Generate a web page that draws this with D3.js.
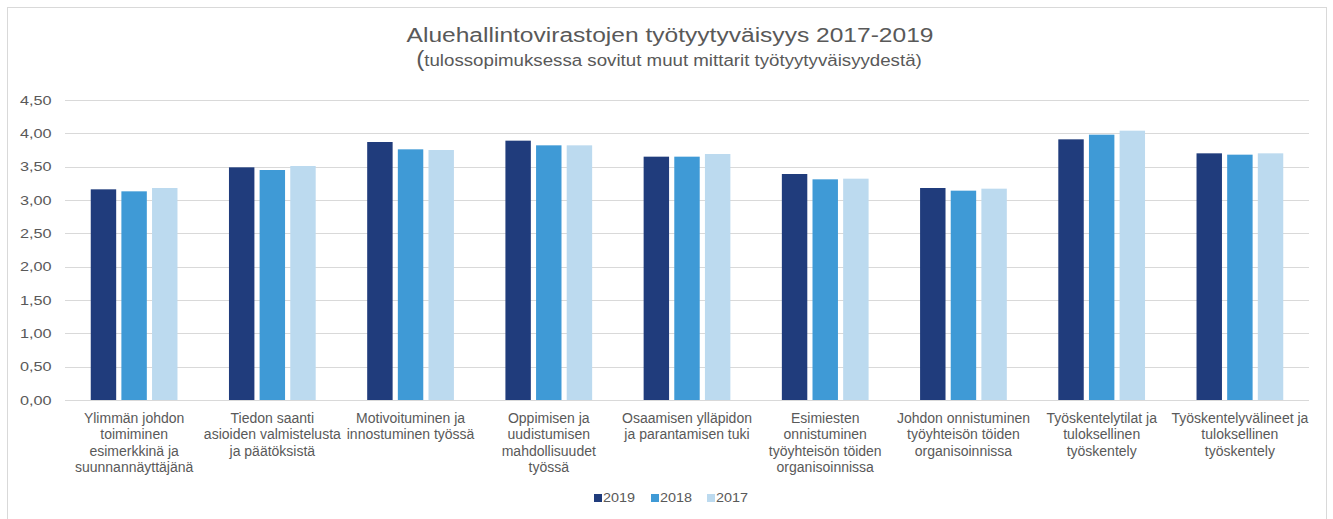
<!DOCTYPE html>
<html>

<head>
    <meta charset='utf-8'>
</head>
<style>
    body {
        margin: 0;
        background: #fff;
    }
    
    text {
        font-family: "Liberation Sans", Arial, sans-serif;
        fill: #595959;
    }
    
    .grid line {
        stroke: #d9d9d9;
        stroke-width: 1px;
    }
</style>

<body>
    <div id='chart'></div>
    <script src="https://d3js.org/d3.v7.min.js"></script>
    <script>
        var categories = [
            ["Ylimmän johdon", "toimiminen", "esimerkkinä ja", "suunnannäyttäjänä"],
            ["Tiedon saanti", "asioiden valmistelusta", "ja päätöksistä"],
            ["Motivoituminen ja", "innostuminen työssä"],
            ["Oppimisen ja", "uudistumisen", "mahdollisuudet", "työssä"],
            ["Osaamisen ylläpidon", "ja parantamisen tuki"],
            ["Esimiesten", "onnistuminen", "työyhteisön töiden", "organisoinnissa"],
            ["Johdon onnistuminen", "työyhteisön töiden", "organisoinnissa"],
            ["Työskentelytilat ja", "tuloksellinen", "työskentely"],
            ["Työskentelyvälineet ja", "tuloksellinen", "työskentely"]
        ];

        var seriesNames = ["2019", "2018", "2017"];
        var seriesColors = ["#203c7c", "#3f9ad6", "#bcdaef"];

        var values2019 = [3.16, 3.49, 3.87, 3.89, 3.65, 3.39, 3.18, 3.91, 3.70];
        var values2018 = [3.13, 3.45, 3.76, 3.82, 3.65, 3.31, 3.14, 3.98, 3.68];
        var values2017 = [3.18, 3.51, 3.75, 3.82, 3.69, 3.32, 3.17, 4.04, 3.70];

        var yTicks = [0, 0.5, 1, 1.5, 2, 2.5, 3, 3.5, 4, 4.5];

        var title = "Aluehallintovirastojen työtyytyväisyys 2017-2019";
        var subtitle = "tulossopimuksessa sovitut muut mittarit työtyytyväisyydestä)";

        var width = 1333;
        var height = 519;
        var margin = {
            left: 65,
            right: 24,
            top: 100,
            bottom: 119
        };

        var svg = d3.select('#chart').append('svg')
            .attr('width', width)
            .attr('height', height);

        // outer frame
        svg.append('rect')
            .attr('x', 7.5).attr('y', 7.5)
            .attr('width', 1319).attr('height', 520)
            .attr('fill', 'none')
            .attr('stroke', '#d9d9d9');

        var data = categories.map(function(c, i) {
            return [values2019[i], values2018[i], values2017[i]];
        });

        var x0 = d3.scaleBand()
            .domain(d3.range(categories.length))
            .range([margin.left, width - margin.right])
            .paddingInner(0).paddingOuter(0);

        var x1 = d3.scaleBand()
            .domain(d3.range(seriesNames.length))
            .range([0, x0.bandwidth()])
            .paddingInner(0.17)
            .paddingOuter(0.84);

        var y = d3.scaleLinear()
            .domain([0, 4.5])
            .range([height - margin.bottom, margin.top]);

        var fmt = function(d) {
            return d3.format(".2f")(d).replace(".", ",");
        };

        // the source picture is a bit wider than tall, so text is stretched sideways
        function stretched(g, px, py, sx) {
            return g.attr('transform', 'translate(' + px + ',' + py + ') scale(' + sx + ',1)');
        }

        // gridlines
        svg.append('g').attr('class', 'grid')
            .selectAll('line').data(yTicks).enter().append('line')
            .attr('x1', margin.left).attr('x2', width - margin.right)
            .attr('y1', function(d) { return Math.round(y(d)) + 0.5; })
            .attr('y2', function(d) { return Math.round(y(d)) + 0.5; });

        // y axis labels
        svg.append('g')
            .selectAll('text').data(yTicks).enter().append('text')
            .attr('transform', function(d) {
                return 'translate(51.5,' + y(d) + ') scale(1.25,1)';
            })
            .attr('dy', '0.35em')
            .attr('text-anchor', 'end')
            .style('font-size', '13px')
            .text(fmt);

        // bars
        var groups = svg.append('g')
            .selectAll('g').data(data).enter().append('g')
            .attr('transform', function(d, i) {
                return 'translate(' + x0(i) + ',0)';
            });

        groups.selectAll('rect')
            .data(function(d) { return d; })
            .enter().append('rect')
            .attr('x', function(d, j) { return x1(j); })
            .attr('y', function(d) { return y(d); })
            .attr('width', x1.bandwidth())
            .attr('height', function(d) { return y(0) - y(d); })
            .attr('fill', function(d, j) { return seriesColors[j]; });

        // category labels
        var labels = svg.append('g')
            .selectAll('text').data(categories).enter().append('text')
            .attr('text-anchor', 'middle')
            .style('font-size', '14px')
            .attr('transform', function(d, i) {
                return 'translate(' + (x0(i) + x0.bandwidth() / 2) + ',423)';
            });
        labels.selectAll('tspan')
            .data(function(d) { return d; })
            .enter().append('tspan')
            .attr('x', 0)
            .attr('y', function(d, k) { return k * 16.4; })
            .text(function(d) { return d; });

        // title
        stretched(svg.append('text'), 670, 42, 1.17)
            .attr('text-anchor', 'middle')
            .style('font-size', '21px')
            .text(title);

        var sub = stretched(svg.append('text'), 669, 66, 1.1)
            .attr('text-anchor', 'middle')
            .style('font-size', '17px');
        sub.append('tspan').style('font-size', '22px').text('(');
        sub.append('tspan').text(subtitle);

        // legend
        var legendX = [594, 651, 707];
        var legend = svg.append('g')
            .selectAll('g').data(seriesNames).enter().append('g')
            .attr('transform', function(d, i) {
                return 'translate(' + legendX[i] + ',498)';
            });
        legend.append('rect')
            .attr('x', 0).attr('y', -4)
            .attr('width', 8).attr('height', 8)
            .attr('fill', function(d, i) { return seriesColors[i]; });
        stretched(legend.append('text'), 9, 0, 1.2)
            .attr('dy', '0.35em')
            .style('font-size', '12px')
            .text(function(d) { return d; });
    </script>
</body>

</html>
